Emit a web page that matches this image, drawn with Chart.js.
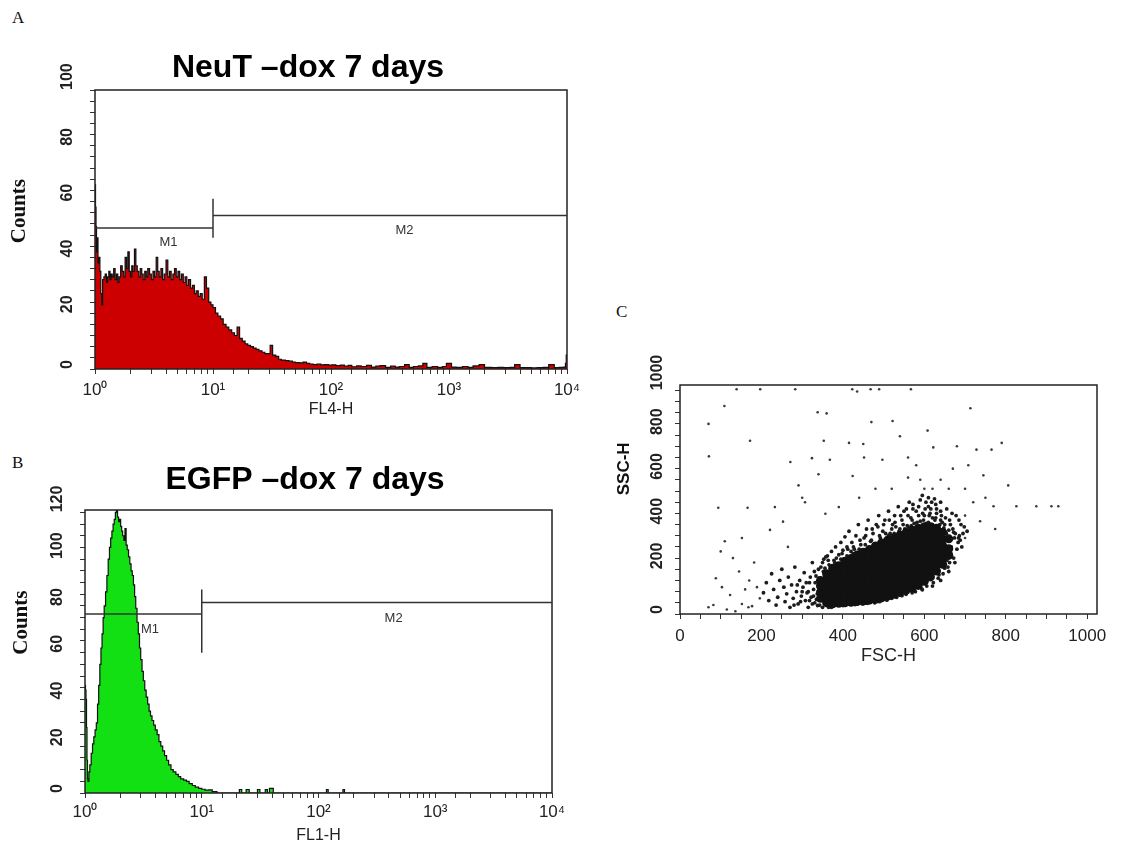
<!DOCTYPE html>
<html>
<head>
<meta charset="utf-8">
<script src="https://cdn.jsdelivr.net/npm/chart.js@4.4.1/dist/chart.umd.min.js"></script>
<style>
  body { margin: 0; background: #fff; width: 1129px; height: 850px; position: relative; overflow: hidden; }
  canvas { position: absolute; }
  .panel { position: absolute; font: 17px "Liberation Serif", "Times New Roman", serif; color: #111; }
</style>
</head>
<body>
<div class="panel" style="left:12px;top:8px">A</div>
<div class="panel" style="left:12px;top:453px">B</div>
<div class="panel" style="left:616px;top:302px">C</div>
<canvas id="chartA" width="616" height="430" style="left:0;top:0"></canvas>
<canvas id="chartB" width="610" height="420" style="left:0;top:430px"></canvas>
<canvas id="chartC" width="529" height="400" style="left:600px;top:290px"></canvas>
<script>
// tick labels
const decadeLabels = ['10⁰', '10¹', '10²', '10³', '10⁴'];
const countLabelsA = [0, 20, 40, 60, 80, 100];
const countLabelsB = [0, 20, 40, 60, 80, 100, 120];
const channelLabels = [0, 200, 400, 600, 800, 1000];

// marker gates M1 / M2
const gateNames = ['M1', 'M2'];
const gateFromA = [1, 10], gateToA = [10, 10000], gateLevelA = [50.5, 55];
const gateTickA = [47, 61], gateLabelXA = [4.2, 420], gateLabelYA = [45.5, 49.8];
const gateFromB = [1, 10], gateToB = [10, 10000], gateLevelB = [76.5, 81.5];
const gateTickB = [60, 87], gateLabelXB = [3.6, 440], gateLabelYB = [70, 74.6];

// A: NeuT -dox 7 days, FL4-H histogram
const fl4Intensity = [
  1.00, 1.01, 1.02, 1.03, 1.04, 1.06, 1.08, 1.10, 1.12, 1.14,
  1.16, 1.19, 1.22, 1.25, 1.28, 1.31, 1.34, 1.37, 1.40, 1.44,
  1.48, 1.52, 1.56, 1.60, 1.65, 1.70, 1.75, 1.80, 1.85, 1.90,
  1.95, 2.00, 2.05, 2.10, 2.16, 2.22, 2.28, 2.35, 2.42, 2.49,
  2.56, 2.64, 2.72, 2.80, 2.90, 3.00, 3.10, 3.20, 3.30, 3.40,
  3.50, 3.62, 3.74, 3.86, 4.00, 4.14, 4.28, 4.42, 4.57, 4.72,
  4.88, 5.05, 5.22, 5.40, 5.60, 5.80, 6.00, 6.20, 6.45, 6.70,
  6.95, 7.20, 7.50, 7.80, 8.10, 8.45, 8.80, 9.20, 9.60, 10.0,
  10.5, 11.0, 11.6, 12.2, 12.9, 13.6, 14.4, 15.2, 16.0, 16.8,
  17.7, 18.7, 19.7, 20.8, 22.0, 23.2, 24.5, 26.0, 27.5, 29.0,
  30.5, 32.0, 34, 36, 38, 41, 44, 47, 50, 54,
  58, 62, 66, 71, 76, 82, 88, 95, 102, 110,
  120, 130, 140, 150, 165, 180, 200, 220, 240, 260,
  290, 320, 350, 380, 420, 460, 500, 550, 600, 650,
  720, 800, 880, 950, 1050, 1150, 1300, 1450, 1600, 1800,
  2000, 2300, 2600, 2900, 3300, 3600, 4000, 4500, 5000, 5600,
  6300, 7000, 7800, 8600, 9300, 9700, 9850, 10000
];
const fl4Counts = [
  66, 58, 51, 42, 47, 38, 40, 35, 27, 23,
  32, 33, 34, 31, 33, 35, 32, 34, 33, 36,
  32, 34, 31, 33, 37, 35, 33, 40, 36, 42,
  35, 33, 37, 35, 43, 37, 35, 33, 36, 34,
  32, 35, 33, 36, 34, 32, 35, 33, 40, 35,
  33, 36, 32, 34, 39, 33, 35, 32, 34, 36,
  33, 35, 32, 34, 31, 33, 30, 32, 29, 30,
  27, 28, 26, 27, 25, 33, 29, 24, 23, 22,
  20, 19, 18, 16, 15, 14, 13, 12, 15, 11,
  10, 9, 8.5, 8, 7.5, 7, 6.5, 6, 5.5, 5.5,
  8.5, 5, 4.5, 3.5, 3.2, 3, 2.8, 2.5, 2.3, 2.2,
  2.5, 2, 1.8, 1.6, 1.8, 1.5, 1.6, 1.4, 1.5, 1.2,
  1.4, 1.0, 1.3, 0.8, 1.1, 0.9, 1.3, 0.7, 1.0, 1.2,
  0.6, 1.0, 0.7, 0.9, 1.6, 0.6, 0.9, 1.1, 2.0, 0.6,
  0.9, 0.6, 0.9, 2.0, 0.7, 0.6, 0.9, 0.6, 1.1, 1.6,
  0.6, 0.5, 0.6, 0.5, 0.6, 1.6, 0.5, 0.5, 0.4, 0.5,
  0.6, 1.6, 0.5, 0.6, 0.7, 2.0, 5.0, 5.0
];

// B: EGFP -dox 7 days, FL1-H histogram
const fl1Intensity = [
  1.00, 1.01, 1.02, 1.03, 1.04, 1.05, 1.06, 1.08, 1.10, 1.13,
  1.16, 1.19, 1.22, 1.25, 1.28, 1.31, 1.34, 1.37, 1.40, 1.43,
  1.46, 1.50, 1.54, 1.58, 1.62, 1.66, 1.70, 1.74, 1.78, 1.82,
  1.86, 1.90, 1.94, 1.98, 2.02, 2.06, 2.10, 2.15, 2.20, 2.25,
  2.30, 2.36, 2.42, 2.48, 2.54, 2.60, 2.66, 2.72, 2.79, 2.86,
  2.93, 3.00, 3.08, 3.16, 3.25, 3.34, 3.44, 3.54, 3.64, 3.75,
  3.87, 4.00, 4.15, 4.30, 4.46, 4.63, 4.80, 5.00, 5.20, 5.45,
  5.70, 6.00, 6.30, 6.60, 7.00, 7.40, 7.80, 8.30, 8.80, 9.40,
  10.0, 10.7, 11.5, 12.3, 13.5, 21, 22, 24, 25.5, 30,
  31.5, 35, 36.5, 38, 41, 117, 121, 162, 167, 10000
];
const fl1Counts = [
  46, 44, 40, 28, 14, 6, 5, 9, 12, 17,
  21, 24, 27, 30, 38, 46, 55, 62, 68, 75,
  80, 86, 93, 100, 105, 109, 112, 115, 117, 120,
  121, 118, 116, 117, 114, 112, 110, 108, 113, 106,
  104, 101, 98, 95, 93, 89, 84, 79, 73, 68,
  62, 57, 52, 48, 44, 41, 38, 35, 33, 31,
  29, 27, 25, 22, 20, 18, 16, 14, 12, 10,
  9, 8, 7, 6, 5.5, 5, 4, 3.2, 2.5, 2,
  1.6, 1.2, 1.3, 0.6, 0, 1.5, 0, 1.5, 0, 1.5,
  0, 1.5, 0, 2, 0, 1.5, 0, 1.5, 0, 0
];

// C: FSC-H / SSC-H events
const coreEvents = [
  [345,70],[345,98],[345,126],[345,150],
  [360,50],[360,72],[360,100],[360,128],[360,156],[360,180],
  [375,46],[375,74],[375,102],[375,130],[375,158],[375,186],[375,205],
  [390,48],[390,76],[390,104],[390,132],[390,160],[390,188],[390,216],
  [405,50],[405,78],[405,106],[405,134],[405,162],[405,190],[405,218],[405,236],
  [420,52],[420,80],[420,108],[420,136],[420,164],[420,192],[420,220],[420,248],
  [435,56],[435,84],[435,112],[435,140],[435,168],[435,196],[435,224],[435,252],[435,264],
  [450,58],[450,86],[450,114],[450,142],[450,170],[450,198],[450,226],[450,254],[450,276],
  [465,62],[465,90],[465,118],[465,146],[465,174],[465,202],[465,230],[465,258],[465,288],
  [480,66],[480,94],[480,122],[480,150],[480,178],[480,206],[480,234],[480,262],[480,290],[480,304],
  [495,72],[495,100],[495,128],[495,156],[495,184],[495,212],[495,240],[495,268],[495,296],[495,318],
  [510,80],[510,108],[510,136],[510,164],[510,192],[510,220],[510,248],[510,276],[510,304],[510,330],
  [525,88],[525,116],[525,144],[525,172],[525,200],[525,228],[525,256],[525,284],[525,312],[525,340],
  [540,96],[540,124],[540,152],[540,180],[540,208],[540,236],[540,264],[540,292],[540,320],[540,352],
  [555,106],[555,134],[555,162],[555,190],[555,218],[555,246],[555,274],[555,302],[555,330],[555,364],
  [570,116],[570,144],[570,172],[570,200],[570,228],[570,256],[570,284],[570,312],[570,340],[570,374],
  [585,128],[585,156],[585,184],[585,212],[585,240],[585,268],[585,296],[585,324],[585,352],[585,384],
  [600,146],[600,174],[600,202],[600,230],[600,258],[600,286],[600,314],[600,342],[600,370],[600,390],
  [615,166],[615,194],[615,222],[615,250],[615,278],[615,306],[615,334],[615,362],[615,390],
  [630,192],[630,220],[630,248],[630,276],[630,304],[630,332],[630,360],[630,384],
  [645,222],[645,250],[645,278],[645,306],[645,334],[645,366],
  [660,262],[660,292],[660,336]
];
const haloEvents = [
  [205,95],[212,140],[218,60],[225,180],[230,110],[236,40],[240,75],[245,150],[250,200],[255,120],
  [258,55],[262,90],[266,165],[270,30],[274,130],[278,70],[282,210],[286,100],[290,45],[294,150],
  [298,80],[302,120],[305,185],[308,60],[312,95],[315,30],[318,140],[322,75],[325,230],[328,110],
  [331,50],[334,170],[337,90],[340,200],[343,40],[346,210],[350,230],[353,245],[356,205],[358,255],
  [362,260],[366,220],[370,35],[372,280],[378,240],[382,300],[386,40],[390,265],[395,320],[400,285],
  [405,345],[410,300],[415,370],[420,280],[422,320],[428,290],[432,350],[438,400],[444,310],[448,45],
  [452,340],[458,380],[462,420],[468,325],[474,360],[478,50],[482,400],[488,440],[492,340],[498,370],
  [503,420],[508,62],[512,460],[516,360],[522,400],[527,440],[532,75],[536,480],[540,380],[545,420],
  [550,460],[555,88],[558,395],[563,500],[567,430],[572,470],[578,100],[582,410],[586,440],[590,510],
  [594,112],[598,420],[602,470],[606,125],[610,410],[614,450],[618,500],[622,140],[626,420],[630,470],
  [634,160],[638,400],[642,440],[646,180],[650,400],[654,360],[658,210],[662,420],[666,300],[670,380],
  [674,340],[678,440],[683,320],[690,400],[695,360],[655,240],[665,270],[672,250],[680,290],[688,330],
  [600,440],[610,480],[620,430],[630,450],[640,420],[580,460],[570,420],[560,440],[548,400],[530,390],
  [520,380],[505,360],[490,350],[470,330],[455,310],[440,290],[425,270],[410,260],[395,245],[380,230],
  [320,165],[330,190],[340,120],[335,65],[325,45],[315,100],[350,30],[365,30],[400,38],[430,42],
  [460,48],[490,55],[520,70],[545,82],[570,95],[595,108],[620,125],[640,150],[660,190],[675,230],
  [328,80],[332,140],[338,38],[342,160],[318,60],[310,140],[300,100],[296,55],[288,130],[280,40],
  [352,190],[356,60],[364,240],[372,30],[384,250],[398,270],[412,290],[426,300],[442,330],[456,350],
  [472,380],[486,390],[500,400],[514,420],[528,410],[542,440],[556,470],[572,490],[586,480],[604,500],
  [616,470],[628,490],[640,460],[652,430],[664,400],[676,360],[686,350],[662,230],[650,205],[636,175],
  [560,390],[575,405],[590,415],[605,405],[620,400],[635,395],[648,385],[660,375],[672,365],[684,340],
  [596,450],[612,440],[628,430],[644,410],[580,380],[568,395],[552,380],[538,370],[526,360],[512,350],
  [610,520],[595,530],[625,515],[640,500],[655,470],[668,450],[685,420],[698,390],[705,370],[692,300]
];
const sparseEvents = [
  [70,30],[82,40],[88,160],[103,120],[115,20],[123,85],[136,12],[145,190],[152,45],[160,110],
  [168,30],[177,35],[182,230],[189,120],[196,70],[110,325],[152,340],[100,280],[130,250],[170,150],
  [70,850],[109,930],[172,775],[71,705],[94,475],[166,475],[139,1005],[197,1005],[283,1005],[423,1005],
  [435,995],[468,1005],[489,1005],[567,1005],[713,920],[608,820],[338,902],[360,897],[522,863],[470,858],
  [353,775],[415,765],[540,795],[790,765],[765,735],[728,735],[680,750],[622,745],[271,680],[324,697],
  [368,690],[452,700],[497,690],[580,665],[708,665],[745,620],[670,650],[291,575],[340,625],[424,617],
  [307,500],[233,478],[253,413],[221,376],[390,478],[357,448],[826,482],[875,482],[912,482],[929,482],
  [770,482],[737,415],[774,380],[806,575],[700,340],[560,610],[600,560],[520,560],[480,560],[560,700],
  [640,600],[700,560],[720,500],[450,760],[300,520],[265,300],[440,520],[660,560],[620,560],[590,600],
  [750,520],[700,440]
];

Chart.defaults.font.family = '"Liberation Sans", Arial, sans-serif';
Chart.defaults.color = '#222';

const tickBold = { family: '"Liberation Sans", Arial, sans-serif', size: 16, weight: 'bold' };
const serifBold = { family: '"Liberation Serif", "Times New Roman", serif', size: 21, weight: 'bold' };

// box around the plot area
const framePlugin = {
  id: 'frame',
  afterDatasetsDraw(chart) {
    const { ctx, chartArea: a } = chart;
    ctx.save();
    ctx.strokeStyle = '#222';
    ctx.lineWidth = 1.5;
    ctx.strokeRect(a.left, a.top, a.right - a.left, a.bottom - a.top);
    ctx.restore();
  }
};

// M1/M2 markers, placed through the chart's scales
function gatePlugin(from, to, level, tick, labelX, labelY) {
  return {
    id: 'gates',
    afterDatasetsDraw(chart) {
      const { ctx } = chart;
      const x = chart.scales.x, y = chart.scales.y;
      ctx.save();
      ctx.strokeStyle = '#333';
      ctx.fillStyle = '#333';
      ctx.lineWidth = 1.5;
      ctx.font = '13px "Liberation Sans", Arial, sans-serif';
      ctx.textAlign = 'center';
      ctx.textBaseline = 'middle';
      gateNames.forEach((name, i) => {
        const py = y.getPixelForValue(level[i]);
        ctx.beginPath();
        ctx.moveTo(x.getPixelForValue(from[i]), py);
        ctx.lineTo(x.getPixelForValue(to[i]), py);
        ctx.stroke();
        ctx.fillText(name, x.getPixelForValue(labelX[i]), y.getPixelForValue(labelY[i]));
      });
      const bx = x.getPixelForValue(to[0]);
      ctx.beginPath();
      ctx.moveTo(bx, y.getPixelForValue(tick[0]));
      ctx.lineTo(bx, y.getPixelForValue(tick[1]));
      ctx.stroke();
      ctx.restore();
    }
  };
}

function logTickLabel(value) {
  const e = Math.round(Math.log10(value));
  return Math.abs(value - Math.pow(10, e)) < 1e-9 ? decadeLabels[e] : '';
}

function stepTicks(max, step) {
  const t = [];
  for (let v = 0; v <= max; v += step) t.push({ value: v });
  return t;
}

const tickGrid = { drawOnChartArea: false, tickLength: 5, color: '#333', tickColor: '#333' };

function histogramChart(id, o) {
  return new Chart(document.getElementById(id), {
    type: 'line',
    data: {
      datasets: [{
        data: o.x.map((v, i) => ({ x: v, y: o.y[i] })),
        stepped: true,
        fill: 'origin',
        backgroundColor: o.fill,
        borderColor: '#111',
        borderWidth: 1.2,
        pointRadius: 0
      }]
    },
    options: {
      responsive: false,
      animation: false,
      layout: { padding: 0 },
      plugins: {
        legend: { display: false },
        tooltip: { enabled: false },
        title: {
          display: true, text: o.title, color: '#000',
          font: { size: 32, weight: 'bold' },
          padding: o.titlePad
        }
      },
      scales: {
        x: {
          type: 'logarithmic', min: 1, max: 10000,
          afterFit: s => { s.height = o.xHeight; },
          grid: tickGrid,
          border: { display: false },
          ticks: { callback: logTickLabel, autoSkip: false, maxRotation: 0, minRotation: 0, padding: o.xPad, font: { size: 17 }, color: '#222' },
          title: { display: true, text: o.xTitle, font: { size: 16 }, color: '#222', padding: { top: 0, bottom: o.xTitlePad } }
        },
        y: {
          min: 0, max: o.yMax, weight: 0,
          afterFit: s => { s.width = o.yWidth; },
          afterBuildTicks: s => { s.ticks = stepTicks(o.yTickMax, o.yStep); },
          grid: tickGrid,
          border: { display: false },
          ticks: {
            callback: v => (o.yLabels.includes(v) ? String(v) : ''),
            autoSkip: false, minRotation: 90, maxRotation: 90,
            mirror: true, padding: -o.yWidth,
            font: tickBold, color: '#222'
          }
        },
        yTitle: {
          position: 'left', weight: 1,
          afterFit: s => { s.width = o.yTitleWidth; },
          grid: { display: false }, border: { display: false }, ticks: { display: false },
          title: { display: true, text: o.yTitle, font: serifBold, color: '#111', padding: { top: o.yTitlePad, bottom: 0 } }
        },
        yRight: {
          position: 'right',
          afterFit: s => { s.width = o.rightWidth; },
          grid: { display: false }, border: { display: false }, ticks: { display: false }
        }
      }
    },
    plugins: [framePlugin, o.gates]
  });
}

// chart area A: x 95-567, y 90-369
histogramChart('chartA', {
  x: fl4Intensity, y: fl4Counts, fill: '#cc0000',
  title: 'NeuT \u2013dox 7 days', titlePad: { top: 48.8, bottom: 2.8 },
  xTitle: 'FL4-H', xHeight: 61, xPad: 5.8, xTitlePad: 10.4,
  yMax: 100, yTickMax: 100, yStep: 4, yLabels: countLabelsA,
  yTitle: '       Counts',
  yWidth: 27, yTitleWidth: 68, yTitlePad: 7.4, rightWidth: 49,
  gates: gatePlugin(gateFromA, gateToA, gateLevelA, gateTickA, gateLabelXA, gateLabelYA)
});

// chart area B: x 85-552, y 80-363 (page 510-793)
histogramChart('chartB', {
  x: fl1Intensity, y: fl1Counts, fill: '#12e012',
  title: 'EGFP \u2013dox 7 days', titlePad: { top: 30.8, bottom: 10.8 },
  xTitle: 'FL1-H', xHeight: 57, xPad: 3.8, xTitlePad: 4.4,
  yMax: 121, yTickMax: 120, yStep: 5, yLabels: countLabelsB,
  yTitle: '           Counts',
  yWidth: 27, yTitleWidth: 58, yTitlePad: 9.4, rightWidth: 58,
  gates: gatePlugin(gateFromB, gateToB, gateLevelB, gateTickB, gateLabelXB, gateLabelYB)
});

const toPoints = arr => arr.map(p => ({ x: p[0], y: p[1] }));
const channelTick = v => (channelLabels.includes(v) ? String(v) : '');

// chart area C: x 80-497, y 95-324 (page 680-1097, 385-614)
new Chart(document.getElementById('chartC'), {
  type: 'scatter',
  data: {
    datasets: [
      { data: toPoints(coreEvents), pointRadius: 4.5, backgroundColor: '#111', borderWidth: 0 },
      { data: toPoints(haloEvents), pointRadius: 1.9, backgroundColor: '#1c1c1c', borderWidth: 0 },
      { data: toPoints(sparseEvents), pointRadius: 1.3, backgroundColor: '#3a3a3a', borderWidth: 0 }
    ]
  },
  options: {
    responsive: false,
    animation: false,
    layout: { padding: { top: 95, right: 32, left: 0, bottom: 0 } },
    plugins: { legend: { display: false }, tooltip: { enabled: false } },
    scales: {
      x: {
        min: 0, max: 1024,
        afterFit: s => { s.height = 76; },
        grid: tickGrid,
        border: { display: false },
        ticks: { stepSize: 50, includeBounds: false, autoSkip: false, maxRotation: 0, callback: channelTick, padding: 6.8, font: { size: 17 }, color: '#222' },
        title: { display: true, text: 'FSC-H', font: { size: 18 }, color: '#222', padding: { top: 0, bottom: 22.8 } }
      },
      y: {
        min: 0, max: 1024, weight: 0,
        afterFit: s => { s.width = 22; },
        grid: tickGrid,
        border: { display: false },
        ticks: {
          stepSize: 50, includeBounds: false, autoSkip: false, callback: channelTick,
          minRotation: 90, maxRotation: 90, mirror: true, padding: -22,
          font: { size: 16, weight: 'bold' }, color: '#222'
        }
      },
      yTitle: {
        position: 'left', weight: 1,
        afterFit: s => { s.width = 58; },
        grid: { display: false }, border: { display: false }, ticks: { display: false },
        title: { display: true, text: '             SSC-H', font: { size: 17, weight: 'bold' }, color: '#111', padding: { top: 13.8, bottom: 0 } }
      }
    }
  },
  plugins: [framePlugin]
});
</script>
</body>
</html>
